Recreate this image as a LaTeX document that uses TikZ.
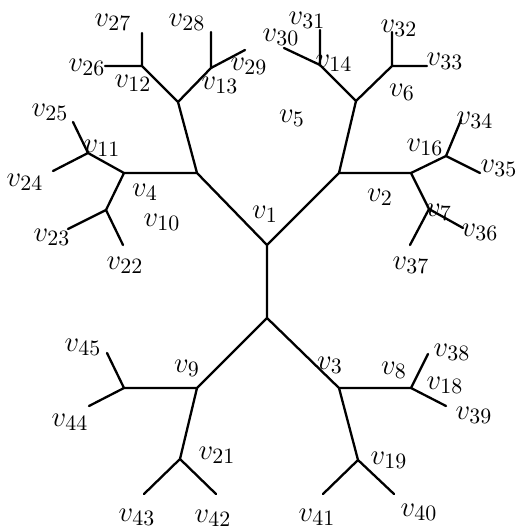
\documentclass[tikz,border=0pt]{standalone}
\begin{document}
\begin{tikzpicture}[x=0.5pt,y=-0.5pt,line width=1.15pt,
  edge/.style={line width=1.15pt,line cap=round},
  lbl/.style={inner sep=0pt,font=\fontsize{15}{17}\selectfont}]
\useasboundingbox (0,0) rectangle (517,529);
% junctions
\coordinate (c1) at (267,245); \coordinate (c0) at (267,318);
\coordinate (jL) at (197,173); \coordinate (jR) at (339,173);
\coordinate (jUL) at (178,102); \coordinate (jUR) at (356,101);
\coordinate (j12) at (142,66); \coordinate (j13) at (211,68);
\coordinate (j14) at (320,65); \coordinate (j6) at (392,66);
\coordinate (j4) at (124,173); \coordinate (j11) at (88,153); \coordinate (j10) at (106,210);
\coordinate (j2) at (411,173); \coordinate (j16) at (446,156); \coordinate (j7) at (429,209);
\coordinate (j9) at (197,388); \coordinate (j3) at (339,388);
\coordinate (j45) at (124,388); \coordinate (j8) at (411,388);
\coordinate (j21) at (180,459); \coordinate (j19) at (358,460);
% leaves
\coordinate (l27) at (142,33); \coordinate (l26) at (105,66);
\coordinate (l28) at (211,32); \coordinate (l29) at (245,50);
\coordinate (l30) at (284,48); \coordinate (l31) at (320,30);
\coordinate (l32) at (392,32); \coordinate (l33) at (427,66);
\coordinate (l25) at (73,122); \coordinate (l24) at (53,171);
\coordinate (l23) at (68,229); \coordinate (l22) at (123,245);
\coordinate (l34) at (461,120); \coordinate (l35) at (480,173);
\coordinate (l36) at (463,228); \coordinate (l37) at (410,245);
\coordinate (l38) at (428,354); \coordinate (l39) at (446,406);
\coordinate (l45) at (107,353); \coordinate (l44) at (89,406);
\coordinate (l43) at (144,494); \coordinate (l42) at (216,494);
\coordinate (l41) at (323,494); \coordinate (l40) at (394,494);
% edges
\draw[edge] (c1)--(c0) (c1)--(jL) (c1)--(jR)
  (jL)--(jUL) (jL)--(j4) (jUL)--(j12) (jUL)--(j13)
  (j12)--(l27) (j12)--(l26) (j13)--(l28) (j13)--(l29)
  (j4)--(j11) (j4)--(j10) (j11)--(l25) (j11)--(l24) (j10)--(l23) (j10)--(l22)
  (jR)--(jUR) (jR)--(j2) (jUR)--(j14) (jUR)--(j6)
  (j14)--(l30) (j14)--(l31) (j6)--(l32) (j6)--(l33)
  (j2)--(j16) (j2)--(j7) (j16)--(l34) (j16)--(l35) (j7)--(l36) (j7)--(l37)
  (c0)--(j9) (c0)--(j3) (j9)--(j45) (j9)--(j21)
  (j45)--(l45) (j45)--(l44) (j21)--(l43) (j21)--(l42)
  (j3)--(j8) (j3)--(j19) (j8)--(l38) (j8)--(l39) (j19)--(l41) (j19)--(l40);
% labels
\node[lbl] (t27) at (113,22) {$v_{27}$};
\node[lbl] (t28) at (187,22) {$v_{28}$};
\node[lbl] (t29) at (249,66) {$v_{29}$};
\node[lbl] (t30) at (281,37) {$v_{30}$};
\node[lbl] (t26) at (87,67) {$v_{26}$};
\node[lbl] (t12) at (133,83) {$v_{12}$};
\node[lbl] (t13) at (220,85) {$v_{13}$};
\node[lbl] (t25) at (50,112) {$v_{25}$};
\node[lbl] (t11) at (102,148) {$v_{11}$};
\node[lbl] (t24) at (25,182) {$v_{24}$};
\node[lbl] (t4) at (145,192) {$v_{4}$};
\node[lbl] (t10) at (162,222) {$v_{10}$};
\node[lbl] (t23) at (52,237) {$v_{23}$};
\node[lbl] (t22) at (125,265) {$v_{22}$};
\node[lbl] (t1) at (265,214) {$v_{1}$};
\node[lbl] (t5) at (292,118) {$v_{5}$};
\node[lbl] (t31) at (307,20) {$v_{31}$};
\node[lbl] (t14) at (334,63) {$v_{14}$};
\node[lbl] (t32) at (399,28) {$v_{32}$};
\node[lbl] (t33) at (445,61) {$v_{33}$};
\node[lbl] (t6) at (402,92) {$v_{6}$};
\node[lbl] (t34) at (475,120) {$v_{34}$};
\node[lbl] (t16) at (425,147) {$v_{16}$};
\node[lbl] (t35) at (499,168) {$v_{35}$};
\node[lbl] (t2) at (380,197) {$v_{2}$};
\node[lbl] (t7) at (439,212) {$v_{7}$};
\node[lbl] (t36) at (480,232) {$v_{36}$};
\node[lbl] (t37) at (411,265) {$v_{37}$};
\node[lbl] (t3) at (330,365) {$v_{3}$};
\node[lbl] (t8) at (394,370) {$v_{8}$};
\node[lbl] (t38) at (452,352) {$v_{38}$};
\node[lbl] (t18) at (445,385) {$v_{18}$};
\node[lbl] (t39) at (474,415) {$v_{39}$};
\node[lbl] (t19) at (389,460) {$v_{19}$};
\node[lbl] (t40) at (419,512) {$v_{40}$};
\node[lbl] (t41) at (317,517) {$v_{41}$};
\node[lbl] (t45) at (83,347) {$v_{45}$};
\node[lbl] (t9) at (187,368) {$v_{9}$};
\node[lbl] (t44) at (70,422) {$v_{44}$};
\node[lbl] (t21) at (217,455) {$v_{21}$};
\node[lbl] (t43) at (137,517) {$v_{43}$};
\node[lbl] (t42) at (213,518) {$v_{42}$};
\end{tikzpicture}
\end{document}
